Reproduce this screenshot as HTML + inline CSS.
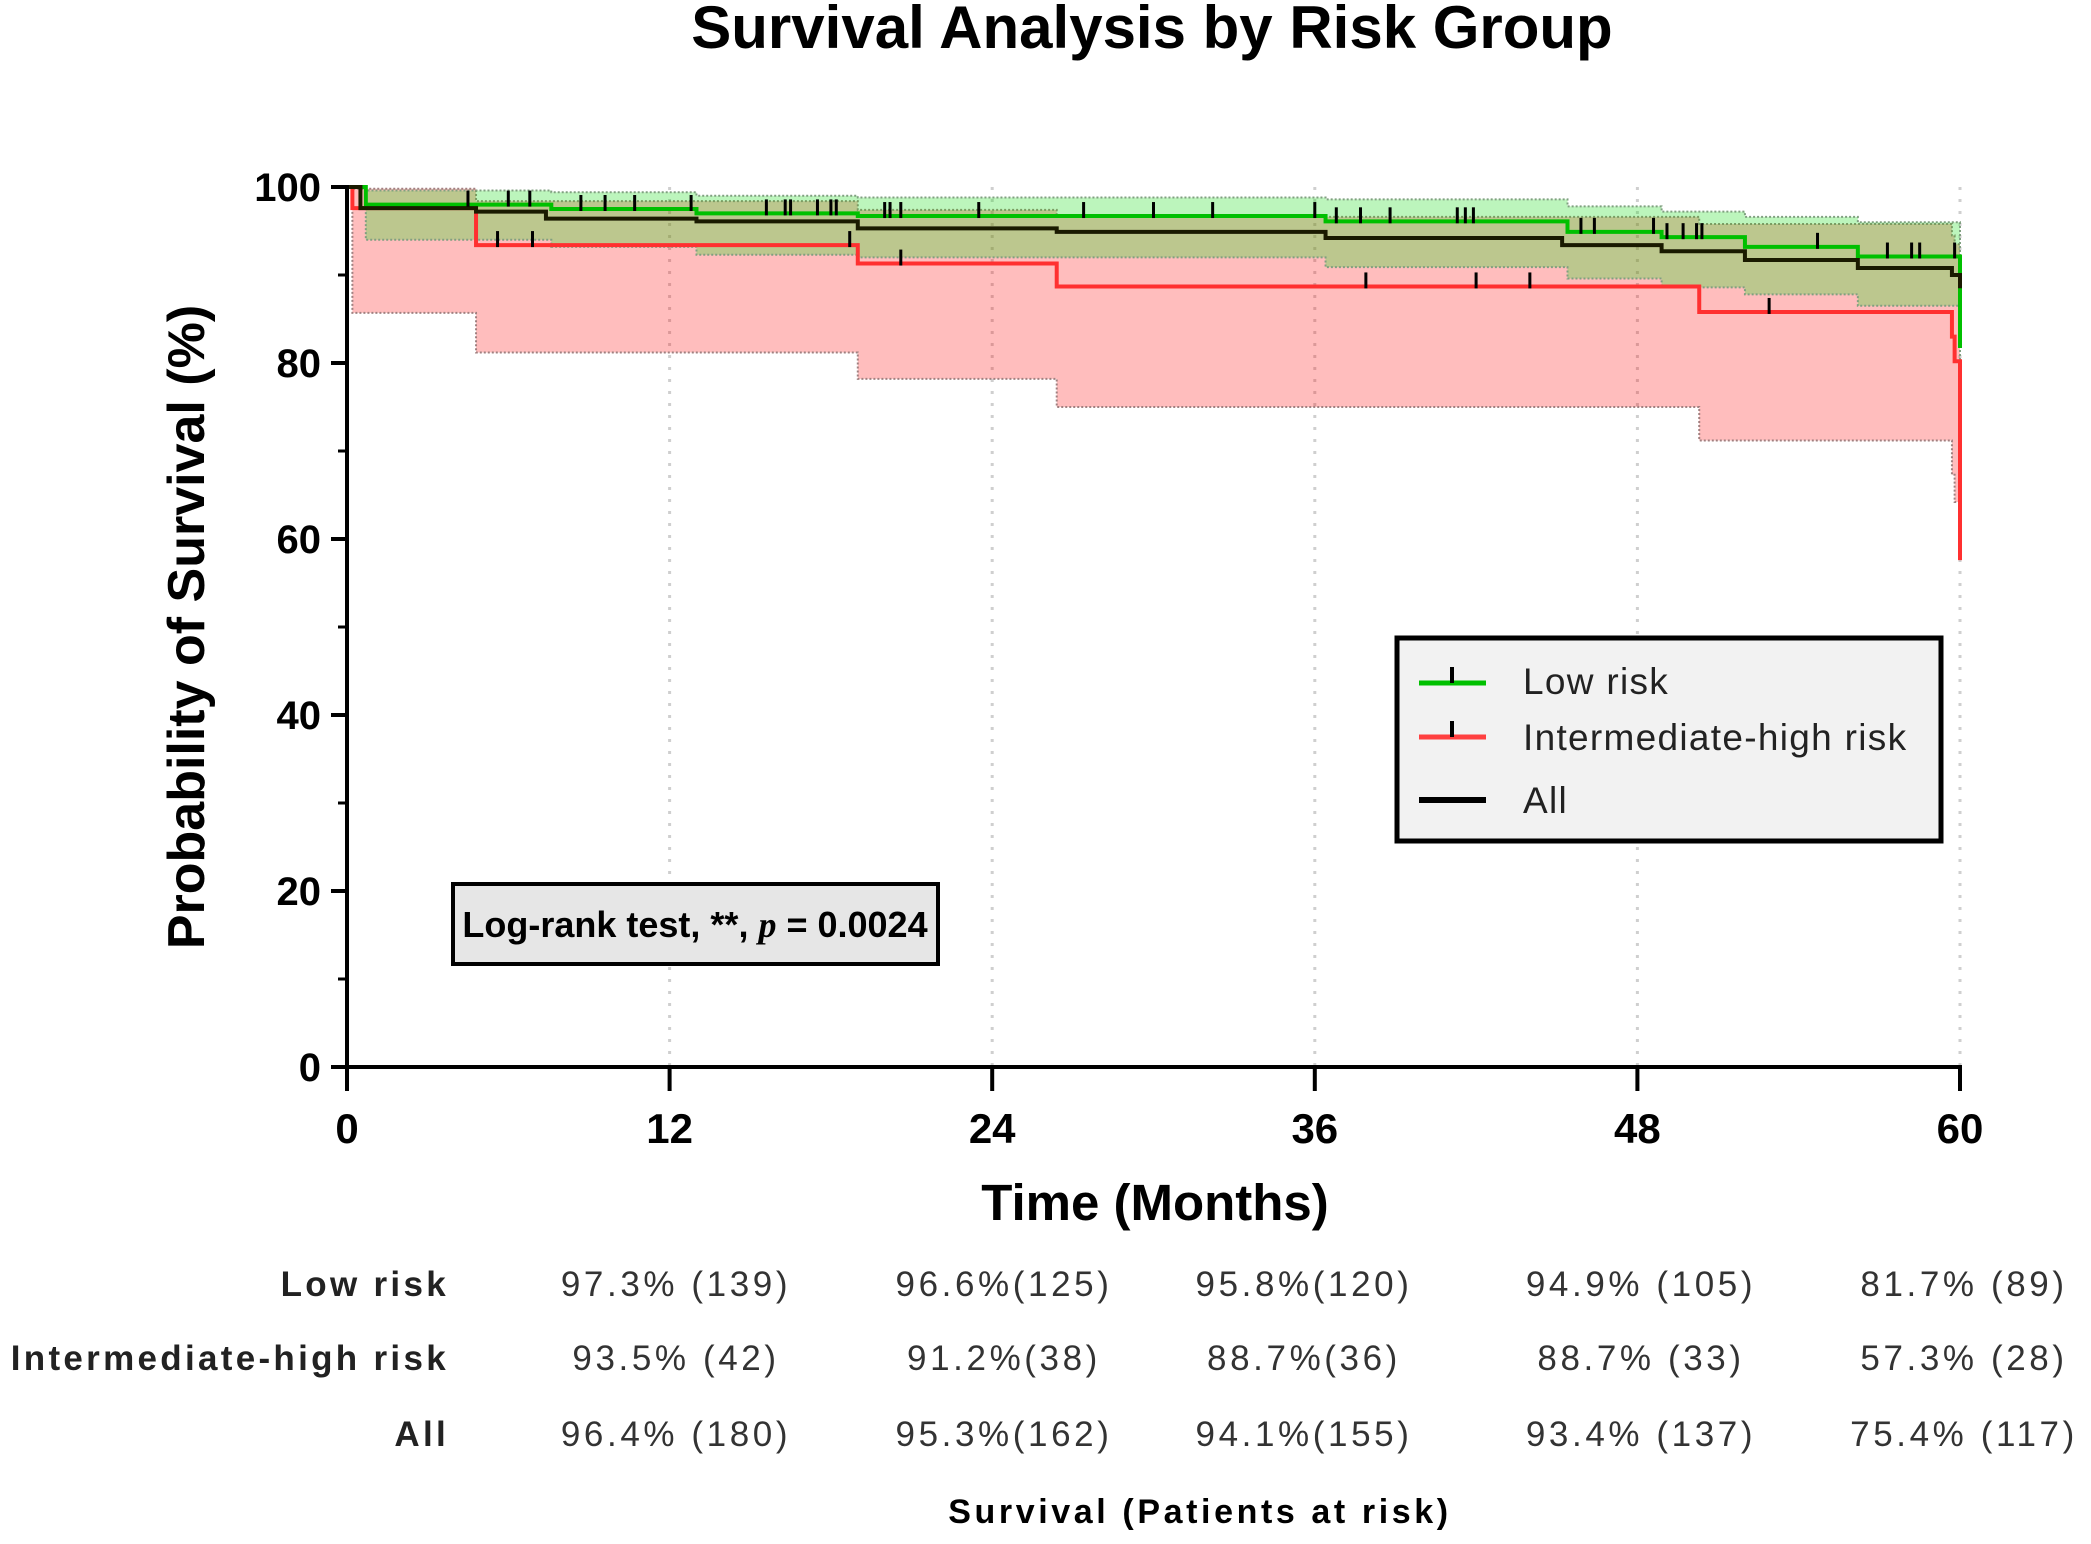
<!DOCTYPE html>
<html><head><meta charset="utf-8"><style>
html,body{margin:0;padding:0;background:#fff;}
svg{display:block;}
</style></head><body>
<svg id="chart" width="2091" height="1544" viewBox="0 0 2091 1544" xmlns="http://www.w3.org/2000/svg" font-family="'Liberation Sans', sans-serif">
<text x="1152" y="48" text-anchor="middle" font-size="60" font-weight="bold">Survival Analysis by Risk Group</text>
<g id="plot"></g>
<text transform="translate(204,627) rotate(-90)" text-anchor="middle" font-size="52" font-weight="bold">Probability of Survival (%)</text>
<text x="1155" y="1220" text-anchor="middle" font-size="51" font-weight="bold">Time (Months)</text>
<g>
<rect x="453" y="884" width="485" height="80" fill="#e6e6e6" stroke="#000" stroke-width="4"/>
<text x="695" y="937" text-anchor="middle" font-size="36" font-weight="bold">Log-rank test, **, <tspan font-style="italic" font-family="'Liberation Serif', serif">p</tspan> = 0.0024</text>
</g>
<g>
<rect x="1397" y="638" width="544" height="203" fill="#f2f2f2" stroke="#000" stroke-width="5"/>
<g>
<line x1="1419" y1="683" x2="1486" y2="683" stroke="#00c000" stroke-width="5"/><line x1="1452" y1="683" x2="1452" y2="667" stroke="#000" stroke-width="4"/>
<text x="1523" y="694" font-size="37" letter-spacing="1.3" fill="#222">Low risk</text></g>
<g>
<line x1="1419" y1="737" x2="1486" y2="737" stroke="#ff4040" stroke-width="5"/><line x1="1452" y1="737" x2="1452" y2="721" stroke="#000" stroke-width="4"/>
<text x="1523" y="750" font-size="37" letter-spacing="1.3" fill="#222">Intermediate-high risk</text></g>
<g>
<line x1="1419" y1="800" x2="1486" y2="800" stroke="#000" stroke-width="6"/>
<text x="1523" y="813" font-size="37" letter-spacing="1.3" fill="#222">All</text></g>
</g>
<g id="table" font-size="35" fill="#222"></g>
<text x="1200" y="1523" text-anchor="middle" font-size="34" font-weight="bold" letter-spacing="3.6">Survival (Patients at risk)</text>
</svg>
<script>
// ---- data ----
const xTicks = [0, 12, 24, 36, 48, 60];
const yTicks = [0, 20, 40, 60, 80, 100];
const lowTimes = [0, 0.7, 7.6, 13, 19, 36.4, 45.4, 48.9, 52, 56.2, 60];
const lowSurv  = [100, 98.0, 97.5, 97.0, 96.7, 96.1, 94.9, 94.3, 93.2, 92.1, 81.7];
const lowUpper = [100, 99.6, 99.4, 99.0, 98.8, 98.6, 97.8, 97.2, 96.6, 96.0, 96.0];
const lowLower = [100, 94.0, 93.2, 92.3, 92.0, 90.9, 89.6, 88.6, 87.8, 86.5, 80.0];
const ihTimes = [0, 0.2, 4.8, 19, 26.4, 50.3, 59.7, 59.8, 60];
const ihSurv  = [100, 97.6, 93.4, 91.3, 88.7, 85.8, 83.0, 80.2, 57.6];
const ihUpper = [100, 99.8, 98.4, 97.4, 96.6, 95.8, 94.5, 93.5, 93.0];
const ihLower = [100, 85.7, 81.2, 78.2, 75.0, 71.2, 67.3, 64.2, 57.6];
const allTimes = [0, 0.5, 4.8, 7.4, 13, 19, 26.4, 36.4, 45.2, 48.9, 52, 56.2, 59.7, 60];
const allSurv  = [100, 97.6, 97.2, 96.4, 96.1, 95.3, 94.9, 94.2, 93.4, 92.7, 91.7, 90.8, 90.0, 88.5];
const lowCensor = [4.5, 6.0, 6.8, 8.7, 9.6, 10.7, 12.8, 15.6, 16.3, 16.5, 17.5, 18.0, 18.2, 20.0, 20.2, 20.6, 23.5, 27.4, 30.0, 32.2, 36.0, 36.8, 37.7, 38.8, 41.3, 41.6, 41.9, 45.9, 46.4, 48.6, 49.1, 49.7, 50.2, 50.4, 54.7, 57.3, 58.2, 58.5, 59.8];
const ihCensor = [5.6, 6.9, 18.7, 20.6, 37.9, 42.0, 44.0, 52.9];
const tableRows = ["Low risk", "Intermediate-high risk", "All"];
const tableLow = ["97.3% (139)", "96.6%(125)", "95.8%(120)", "94.9% (105)", "81.7% (89)"];
const tableIH = ["93.5% (42)", "91.2%(38)", "88.7%(36)", "88.7% (33)", "57.3% (28)"];
const tableAll = ["96.4% (180)", "95.3%(162)", "94.1%(155)", "93.4% (137)", "75.4% (117)"];

// ---- scales ----
const X0 = 347, X1 = 1960, Y0 = 1067, Y1 = 187;
const sx = t => X0 + (t / 60) * (X1 - X0);
const sy = v => Y0 - (v / 100) * (Y0 - Y1);
const NS = "http://www.w3.org/2000/svg";
const plot = document.getElementById('plot');
function mk(tag, attrs, parent) {
  const e = document.createElementNS(NS, tag);
  for (const k in attrs) e.setAttribute(k, attrs[k]);
  (parent || plot).appendChild(e);
  return e;
}
function stepPath(times, vals) {
  let d = `M${sx(times[0])},${sy(vals[0])}`;
  for (let i = 1; i < times.length; i++) d += ` H${sx(times[i])} V${sy(vals[i])}`;
  return d;
}
function bandPath(times, up, lo) {
  let d = `M${sx(times[0])},${sy(up[0])}`;
  for (let i = 1; i < times.length; i++) d += ` H${sx(times[i])} V${sy(up[i])}`;
  d += ` V${sy(lo[lo.length - 1])}`;
  for (let i = times.length - 1; i >= 1; i--) d += ` H${sx(times[i])} V${sy(lo[i - 1])}`;
  d += ` H${sx(times[0])} Z`;
  return d;
}
function yAt(times, vals, t) {
  let v = vals[0];
  for (let i = 0; i < times.length; i++) if (times[i] <= t) v = vals[i];
  return v;
}

// gridlines
xTicks.slice(1).forEach(t => {
  const g = mk('line', {x1: sx(t), x2: sx(t), y1: Y1, y2: Y0, stroke: '#cfcfcf', 'stroke-width': 3, 'stroke-dasharray': '3,9'});
  
  
});

// bands
const ihBand = mk('path', {d: bandPath(ihTimes, ihUpper, ihLower), fill: '#ff0000', 'fill-opacity': 0.26, stroke: '#a08080', 'stroke-width': 2, 'stroke-dasharray': '2,2'});


const lowBand = mk('path', {d: bandPath(lowTimes, lowUpper, lowLower), fill: '#22dd22', 'fill-opacity': 0.3, stroke: '#80a080', 'stroke-width': 2, 'stroke-dasharray': '2,2'});



// lines
const ihLine = mk('path', {d: stepPath(ihTimes, ihSurv), fill: 'none', stroke: '#ff3030', 'stroke-width': 4});


const lowLine = mk('path', {d: stepPath(lowTimes, lowSurv), fill: 'none', stroke: '#00c000', 'stroke-width': 4});


const allLine = mk('path', {d: stepPath(allTimes, allSurv), fill: 'none', stroke: '#1a1a00', 'stroke-width': 4});



// censor ticks
lowCensor.forEach(t => {
  const y = sy(yAt(lowTimes, lowSurv, t));
  const c = mk('line', {x1: sx(t), x2: sx(t), y1: y - 14, y2: y + 2, stroke: '#000', 'stroke-width': 3});
  
  
});
ihCensor.forEach(t => {
  const y = sy(yAt(ihTimes, ihSurv, t));
  const c = mk('line', {x1: sx(t), x2: sx(t), y1: y - 14, y2: y + 2, stroke: '#000', 'stroke-width': 3});
  
  
});

// axes
const yAxis = mk('line', {x1: X0, x2: X0, y1: Y1 - 2, y2: Y0 + 2, stroke: '#000', 'stroke-width': 4});


const xAxis = mk('line', {x1: X0 - 2, x2: X1 + 2, y1: Y0, y2: Y0, stroke: '#000', 'stroke-width': 4});


for (let v = 10; v < 100; v += 20) {
  const m = mk('line', {x1: X0 - 9, x2: X0, y1: sy(v), y2: sy(v), stroke: '#000', 'stroke-width': 3});
  
  
}
yTicks.forEach(v => {
  const tk = mk('line', {x1: X0 - 16, x2: X0, y1: sy(v), y2: sy(v), stroke: '#000', 'stroke-width': 4});
  
  
  const lb = mk('text', {x: X0 - 26, y: sy(v) + 14, 'text-anchor': 'end', 'font-size': 40, 'font-weight': 'bold'});
  lb.textContent = v;
  
  
});
xTicks.forEach(t => {
  const tk = mk('line', {x1: sx(t), x2: sx(t), y1: Y0, y2: Y0 + 24, stroke: '#000', 'stroke-width': 4});
  
  
  const lb = mk('text', {x: sx(t), y: 1143, 'text-anchor': 'middle', 'font-size': 42, 'font-weight': 'bold'});
  lb.textContent = t;
  
  
});

// risk table
const table = document.getElementById('table');
const rowY = [1296, 1370, 1446];
const colX = [676, 1004, 1304, 1641, 1964];
const rowsData = [tableLow, tableIH, tableAll];
tableRows.forEach((name, r) => {
  const lb = mk('text', {x: 449, y: rowY[r], 'text-anchor': 'end', 'font-weight': 'bold', 'letter-spacing': 3.3}, table);
  lb.textContent = name;
  
  
  rowsData[r].forEach((txt, c) => {
    const cell = mk('text', {x: colX[c], y: rowY[r], 'text-anchor': 'middle', 'letter-spacing': 3.6, fill: '#333'}, table);
    cell.textContent = txt;
    
    
  });
});
</script>
</body></html>
